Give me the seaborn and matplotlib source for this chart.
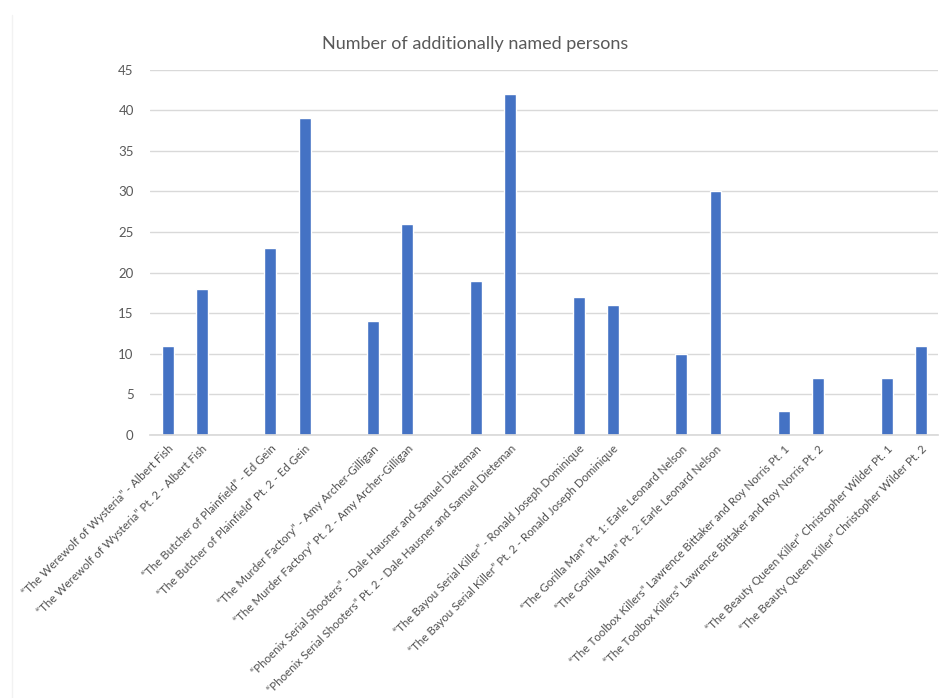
import matplotlib
matplotlib.use("Agg")
import matplotlib.pyplot as plt
from matplotlib.lines import Line2D
import seaborn as sns
import pandas as pd

# Episode titles and the number of additionally named persons in each
episodes = [
    "\u201cThe Werewolf of Wysteria\u201d - Albert Fish",
    "\u201cThe Werewolf of Wysteria\u201d Pt. 2 - Albert Fish",
    "\u201cThe Butcher of Plainfield\u201d - Ed Gein",
    "\u201cThe Butcher of Plainfield\u201d Pt. 2 - Ed Gein",
    "\u201cThe Murder Factory\u201d - Amy Archer-Gilligan",
    "\u201cThe Murder Factory\u201d Pt. 2 - Amy Archer-Gilligan",
    "\u201cPhoenix Serial Shooters\u201d - Dale Hausner and Samuel Dieteman",
    "\u201cPhoenix Serial Shooters\u201d Pt. 2 - Dale Hausner and Samuel Dieteman",
    "\u201cThe Bayou Serial Killer\u201d - Ronald Joseph Dominique",
    "\u201cThe Bayou Serial Killer\u201d Pt. 2 - Ronald Joseph Dominique",
    "\u201cThe Gorilla Man\u201d Pt. 1: Earle Leonard Nelson",
    "\u201cThe Gorilla Man\u201d Pt. 2: Earle Leonard Nelson",
    "\u201cThe Toolbox Killers\u201d Lawrence Bittaker and Roy Norris Pt. 1",
    "\u201cThe Toolbox Killers\u201d Lawrence Bittaker and Roy Norris Pt. 2",
    "\u201cThe Beauty Queen Killer\u201d Christopher Wilder Pt. 1",
    "\u201cThe Beauty Queen Killer\u201d Christopher Wilder Pt. 2",
]
named_persons = [11, 18, 23, 39, 14, 26, 19, 42, 17, 16, 10, 30, 3, 7, 7, 11]
y_ticks = [0, 5, 10, 15, 20, 25, 30, 35, 40, 45]

# Two-part episodes sit side by side, with one empty slot between cases
slots = [i + i // 2 for i in range(len(episodes))]
df = pd.DataFrame({"slot": slots, "episode": episodes, "persons": named_persons})

sns.set_theme(style="white")
plt.rcParams["font.family"] = ["Lato", "DejaVu Sans"]
text_color = "#595959"

fig = plt.figure(figsize=(9.40, 6.98), dpi=100)

# faint chart-area border on the left
fig.add_artist(Line2D([0.0128, 0.0128], [0.0, 0.978], color="#f2f2f2",
                      linewidth=1, transform=fig.transFigure))

ax = fig.add_axes([0.16, 0.377, 0.838, 0.523])

sns.barplot(data=df, x="slot", y="persons", native_scale=True, width=0.35,
            color="#4472C4", saturation=1, ax=ax)

ax.set_xlim(-0.5, max(slots) + 0.5)
ax.set_ylim(0, 45)
ax.set_yticks(y_ticks)
ax.set_xticks(slots)
ax.set_xticklabels(episodes, rotation=45, ha="right", rotation_mode="anchor",
                   fontsize=8.3, color="#505050")
ax.tick_params(axis="y", labelsize=9.5, colors=text_color, length=0, pad=12)
ax.tick_params(axis="x", length=0, pad=6)
ax.yaxis.grid(True, color="#d9d9d9", linewidth=1)
ax.set_axisbelow(True)
for side in ["top", "right", "left"]:
    ax.spines[side].set_visible(False)
ax.spines["bottom"].set_color("#d9d9d9")
ax.set_xlabel("")
ax.set_ylabel("")

fig.text(0.505, 0.937, "Number of additionally named persons", ha="center",
         va="center", fontsize=13, color=text_color)

fig.savefig("out.png", dpi=100, facecolor="white")
